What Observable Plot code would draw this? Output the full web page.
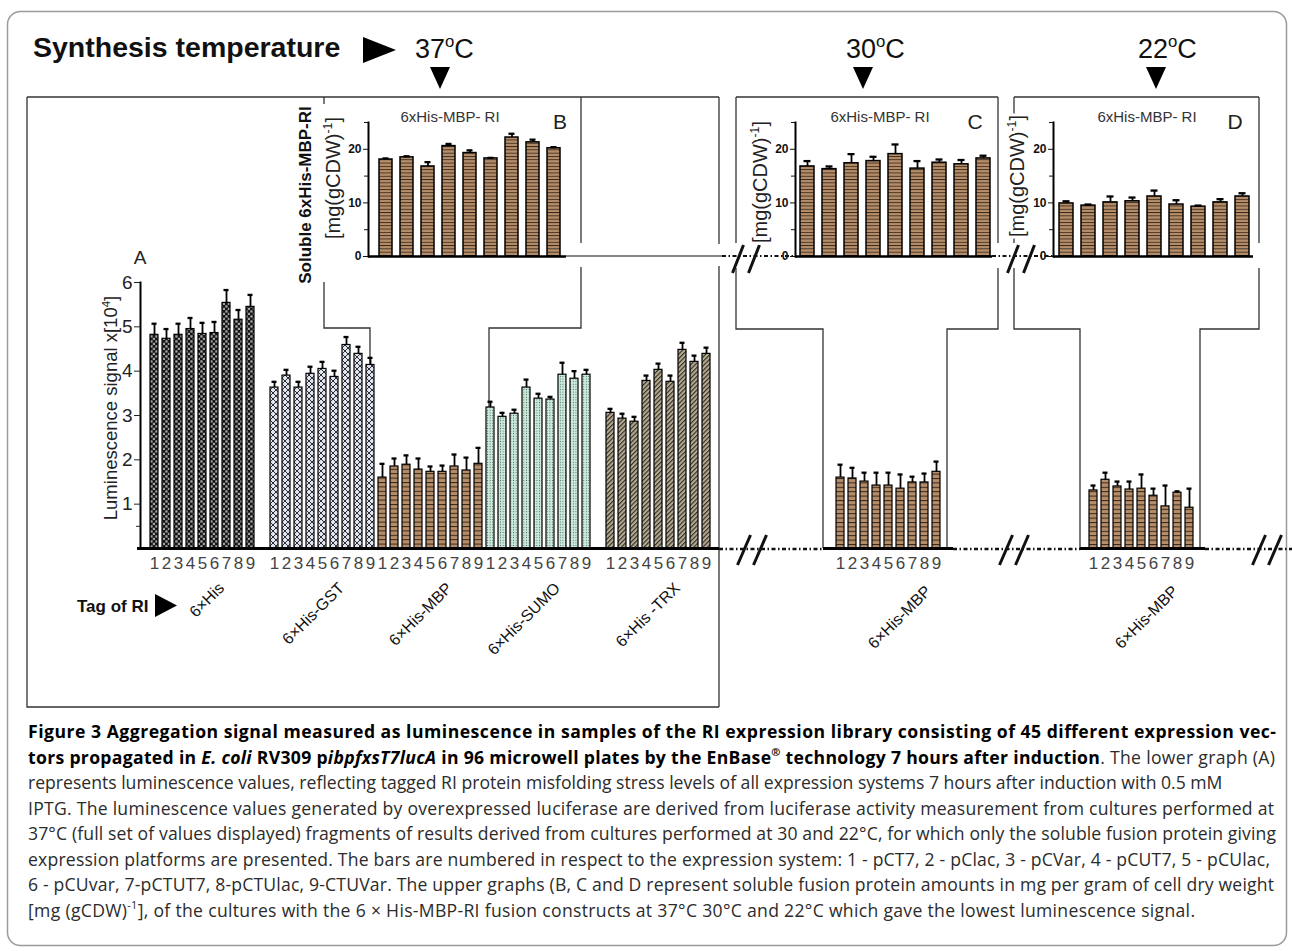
<!DOCTYPE html>
<html><head><meta charset="utf-8">
<script src="https://cdn.jsdelivr.net/npm/d3@7"></script>
<script src="https://cdn.jsdelivr.net/npm/@observablehq/plot@0.6"></script>
<style>
html,body{margin:0;padding:0;background:#fff;}
#root{position:relative;width:1292px;height:951px;overflow:hidden;background:#fff;}
#root > svg{position:absolute;}
</style></head><body><div id="root"></div>
<script>
// ---------------- data ----------------
const systems = ["1","2","3","4","5","6","7","8","9"];
const tagLabels = ["6×His","6×His-GST","6×His-MBP","6×His-SUMO","6×His -TRX"];
const lum6His  = [4.82,4.73,4.82,4.95,4.84,4.86,5.54,5.16,5.45];
const sd6His   = [0.25,0.22,0.25,0.25,0.25,0.25,0.29,0.22,0.27];
const lumGST   = [3.63,3.90,3.63,3.94,4.05,3.87,4.59,4.39,4.14];
const sdGST    = [0.13,0.13,0.13,0.16,0.16,0.14,0.18,0.16,0.16];
const lumMBP   = [1.60,1.85,1.89,1.78,1.73,1.73,1.85,1.76,1.91];
const sdMBP    = [0.31,0.18,0.21,0.25,0.12,0.14,0.27,0.29,0.36];
const lumSUMO  = [3.18,2.97,3.04,3.63,3.38,3.36,3.92,3.83,3.92];
const sdSUMO   = [0.13,0.09,0.09,0.18,0.11,0.06,0.27,0.17,0.11];
const lumTRX   = [3.06,2.93,2.86,3.78,4.03,3.76,4.48,4.21,4.39];
const sdTRX    = [0.09,0.11,0.11,0.12,0.14,0.14,0.16,0.14,0.14];
const lumMBP30 = [1.60,1.58,1.51,1.42,1.42,1.35,1.49,1.49,1.73];
const sdMBP30  = [0.29,0.24,0.20,0.29,0.29,0.32,0.13,0.20,0.23];
const lumMBP22 = [1.31,1.55,1.40,1.33,1.35,1.19,0.95,1.26,0.92];
const sdMBP22  = [0.11,0.16,0.11,0.18,0.32,0.16,0.47,0.03,0.43];
const sol37   = [18.1,18.5,16.8,20.6,19.3,18.3,22.2,21.3,20.2];
const sdSol37 = [0.2,0.2,0.8,0.4,0.5,0.1,0.7,0.5,0.2];
const sol30   = [16.8,16.3,17.4,17.8,19.1,16.4,17.5,17.2,18.3];
const sdSol30 = [1.0,0.5,1.7,0.8,1.8,1.4,0.6,0.8,0.5];
const sol22   = [9.9,9.5,10.1,10.3,11.2,9.7,9.3,10.1,11.2];
const sdSol22 = [0.4,0.2,1.1,0.7,1.1,0.8,0.2,0.6,0.6];
const lumTicks = [1,2,3,4,5,6];
const lumMinorTicks = [0.5];
const solTicks = [0,10,20];
const solMinorTicks = [5,15,25];
const temps = ["37","30","22"];
const insetTitle = "6xHis-MBP- RI";
const insetLetters = ["B","C","D"];
const lumLabel = "Luminescence signal x[10";
const solLabel1 = "Soluble 6xHis-MBP-RI";
const solLabel2 = "[mg(gCDW)";

// ---------------- helpers ----------------
const FONT = '"Liberation Sans", Arial, Helvetica, sans-serif';
const root = document.getElementById("root");
const ov = d3.select(root).append("svg").attr("width",1292).attr("height",951)
  .style("left","0px").style("top","0px").attr("font-family", FONT);

ov.append("defs").html(`
<pattern id="pHis" width="5" height="5" patternUnits="userSpaceOnUse">
  <rect width="5" height="5" fill="#151515"/>
  <rect x="0.3" y="0.3" width="2.3" height="2.3" fill="#a3a3a3"/>
  <rect x="2.8" y="2.8" width="2.3" height="2.3" fill="#a3a3a3"/>
</pattern>
<pattern id="pGST" width="6" height="6" patternUnits="userSpaceOnUse">
  <rect width="6" height="6" fill="#dfe4f1"/>
  <path d="M0,0L6,6M6,0L0,6" stroke="#1a1a1a" stroke-width="0.9"/>
</pattern>
<pattern id="pMBP" width="6" height="4.4" patternUnits="userSpaceOnUse">
  <rect width="6" height="4.4" fill="#b68d69"/>
  <rect y="0" width="6" height="1" fill="#33261a"/>
</pattern>
<pattern id="pMBPi" width="6" height="3.3" patternUnits="userSpaceOnUse">
  <rect width="6" height="3.3" fill="#b68d69"/>
  <rect y="0" width="6" height="0.9" fill="#3a2b1d"/>
</pattern>
<pattern id="pSUMO" width="2.6" height="2.6" patternUnits="userSpaceOnUse">
  <rect width="2.6" height="2.6" fill="#cdecdd"/>
  <circle cx="1.3" cy="1.3" r="0.55" fill="#4d6b5b"/>
</pattern>
<pattern id="pTRX" width="3.2" height="3.2" patternUnits="userSpaceOnUse" patternTransform="rotate(45)">
  <rect width="3.2" height="3.2" fill="#b6aa8d"/>
  <rect x="0" y="0" width="1.1" height="3.2" fill="#2b2b2b"/>
</pattern>`);

const groupFills = ["url(#pHis)","url(#pGST)","url(#pMBP)","url(#pSUMO)","url(#pTRX)"];

function line(pts, o = {}) {
  return ov.append("polyline").attr("points", pts.map(p => p.join(",")).join(" "))
    .attr("fill","none").attr("stroke", o.c || "#333").attr("stroke-width", o.w || 1.3)
    .attr("stroke-dasharray", o.dash || null).attr("stroke-linecap", o.cap || null);
}
function rich(x, y, runs, o) {
  const t = ov.append("text").attr("x", x).attr("y", y)
    .attr("font-family", o.font || FONT).attr("font-size", o.size).attr("fill", o.fill || "#222");
  if (o.len) t.attr("textLength", o.len).attr("lengthAdjust", "spacing");
  if (o.anchor) t.attr("text-anchor", o.anchor);
  if (o.weight) t.attr("font-weight", o.weight);
  if (o.transform) t.attr("transform", o.transform);
  if (o.halo) t.attr("stroke","#fff").attr("stroke-width",6).attr("paint-order","stroke").attr("stroke-linejoin","round");
  let shift = 0;
  runs.forEach(r => {
    const s = t.append("tspan").text(r.t);
    if (r.b) s.attr("font-weight","bold");
    if (r.i) s.attr("font-style","italic");
    if (r.f) s.attr("fill", r.f);
    const target = r.sup ? -(o.size * 0.4) : 0;
    if (target !== shift) { s.attr("dy", target - shift); shift = target; }
    if (r.sup) s.attr("font-size", o.size * 0.62);
  });
  return t;
}
function slashes(cx, cy, h, w) {
  [cx - 8, cx + 8].forEach(x => line([[x - w/2, cy + h/2], [x + w/2, cy - h/2]], {c:"#111", w:3}));
}
function bandRange(c0, c1, n, pad) {
  const step = (c1 - c0) / (n - 1), bw = step * (1 - pad);
  return [c0 - bw / 2, c1 + bw / 2];
}
function errMarks(rows, capInset, sw) {
  return [
    Plot.ruleX(rows, {x: "key", y1: "v", y2: d => d.v + d.sd, stroke: "#000", strokeWidth: sw}),
    Plot.tickY(rows, {x: "key", y: d => d.v + d.sd, stroke: "#000", strokeWidth: sw + 0.5, insetLeft: capInset, insetRight: capInset})
  ];
}
function place(svg, left, top) {
  svg.style.position = "absolute"; svg.style.left = left + "px"; svg.style.top = top + "px";
  root.appendChild(svg);
}
const baseStyle = {background: "transparent", overflow: "visible", fontFamily: FONT};

// ---------------- decorations (behind plots) ----------------
ov.append("rect").attr("x",7.5).attr("y",11.5).attr("width",1279).attr("height",934).attr("rx",13)
  .attr("fill","none").attr("stroke","#9a9a9a").attr("stroke-width",1.5);

// A box
line([[27,97],[719,97]]); line([[27,97],[27,707],[719,707]]);
line([[719,97],[719,244]]); line([[719,266],[719,707]]);
// B callout
line([[324,97],[324,104]]); line([[324,282],[324,328],[370,328],[370,548]]);
line([[581,97],[581,243]]); line([[581,267],[581,328],[489,328],[489,548]]);
// C box + callout
line([[736,97],[998,97]]);
line([[736,97],[736,243]]); line([[736,268],[736,329],[823,329],[823,548]]);
line([[998,97],[998,243]]); line([[998,268],[998,329],[947,329],[947,548]]);
// D box + callout
line([[1014,97],[1259,97]]);
line([[1014,97],[1014,243]]); line([[1014,268],[1014,329],[1080,329],[1080,548]]);
line([[1259,97],[1259,243]]); line([[1259,268],[1259,329],[1200,329],[1200,548]]);

// dotted connecting axes
const dash = "4 2.5 1.5 2.5";
line([[566,256],[722,256]], {c:"#111", w:1.2});
line([[722,256],[795,256]], {c:"#111", w:2.2, dash});
line([[992,256],[1053,256]], {c:"#111", w:2.2, dash});
slashes(746, 259, 28, 11); slashes(1021, 259, 28, 11);
line([[719,549],[823,549]], {c:"#111", w:2.6, dash});
line([[953,549],[1080,549]], {c:"#111", w:2.6, dash});
line([[1205,549],[1292,549]], {c:"#111", w:2.6, dash});
slashes(752, 550, 30, 13); slashes(1014, 550, 30, 13); slashes(1267, 550, 30, 13);

// header
rich(33, 57, [{t:"Synthesis temperature"}], {size:28.5, weight:"bold", fill:"#111"});
ov.append("polygon").attr("points","363,37 363,63 396,50").attr("fill","#000");
const tempX = [415, 846, 1138], arrowX = [440, 863, 1156];
temps.forEach((t, i) => {
  rich(tempX[i], 58, [{t}, {t:"o", sup:1}, {t:"C"}], {size:27, fill:"#111"});
  ov.append("polygon").attr("points", `${arrowX[i]-10},67 ${arrowX[i]+10},67 ${arrowX[i]},89`).attr("fill","#000");
});

// A labels
rich(140, 264, [{t:"A"}], {size:19, anchor:"middle", fill:"#222"});
rich(0, 0, [{t:lumLabel}, {t:"4", sup:1}, {t:"]"}], {size:18.5, anchor:"middle", fill:"#222", transform:"translate(117,408) rotate(-90)"});
rich(77, 612, [{t:"Tag of RI"}], {size:17, weight:"bold", fill:"#111"});
ov.append("polygon").attr("points","155,594 155,617 177,605.5").attr("fill","#000");

// inset titles and y labels
const titleX = [450, 880, 1147], letterX = [560, 975, 1235];
insetLetters.forEach((l, i) => {
  rich(titleX[i], 122, [{t:insetTitle}], {size:15, anchor:"middle", fill:"#333"});
  rich(letterX[i], 129, [{t:l}], {size:21, anchor:"middle", fill:"#222"});
});
rich(0, 0, [{t:solLabel1}], {size:17, weight:"bold", anchor:"middle", fill:"#111", transform:"translate(311,195) rotate(-90)"});
rich(0, 0, [{t:solLabel2}, {t:"-1", sup:1}, {t:"]"}], {size:20, anchor:"middle", fill:"#222", transform:"translate(340,178) rotate(-90)"});
rich(0, 0, [{t:solLabel2}, {t:"-1", sup:1}, {t:"]"}], {size:20, anchor:"middle", fill:"#222", transform:"translate(767,182) rotate(-90)", halo:1});
rich(0, 0, [{t:solLabel2}, {t:"-1", sup:1}, {t:"]"}], {size:20, anchor:"middle", fill:"#222", transform:"translate(1024,176) rotate(-90)", halo:1});

// caption
const CAP = '"Open Sans", Lato, sans-serif';
const capLines = [
  [{t:"Figure 3 Aggregation signal measured as luminescence in samples of the RI expression library consisting of 45 different expression vec-", b:1, f:"#000"}],
  [{t:"tors propagated in ", b:1, f:"#000"}, {t:"E. coli", b:1, i:1, f:"#000"}, {t:" RV309 p", b:1, f:"#000"}, {t:"ibpfxsT7lucA", b:1, i:1, f:"#000"},
   {t:" in 96 microwell plates by the EnBase", b:1, f:"#000"}, {t:"®", b:1, sup:1, f:"#000"}, {t:" technology 7 hours after induction", b:1, f:"#000"}, {t:". The lower graph (A)"}],
  [{t:"represents luminescence values, reflecting tagged RI protein misfolding stress levels of all expression systems 7 hours after induction with 0.5 mM"}],
  [{t:"IPTG. The luminescence values generated by overexpressed luciferase are derived from luciferase activity measurement from cultures performed at"}],
  [{t:"37°C (full set of values displayed) fragments of results derived from cultures performed at 30 and 22°C, for which only the soluble fusion protein giving"}],
  [{t:"expression platforms are presented. The bars are numbered in respect to the expression system: 1 - pCT7, 2 - pClac, 3 - pCVar, 4 - pCUT7, 5 - pCUlac,"}],
  [{t:"6 - pCUvar, 7-pCTUT7, 8-pCTUlac, 9-CTUVar. The upper graphs (B, C and D represent soluble fusion protein amounts in mg per gram of cell dry weight"}],
  [{t:"[mg (gCDW)"}, {t:"-1", sup:1}, {t:"], of the cultures with the 6 × His-MBP-RI fusion constructs at 37°C 30°C and 22°C which gave the lowest luminescence signal."}]
];
const capEnd = [1276, 1275, null, 1274, 1276, 1270, 1274, 1195];
capLines.forEach((runs, i) => rich(28, 738 + i * 25.5, runs, {size:17.6, font:CAP, fill:"#2b2b2b", len: capEnd[i] ? capEnd[i] - 28 : null}));

// ---------------- plot A ----------------
const groupVals = [lum6His, lumGST, lumMBP, lumSUMO, lumTRX];
const groupSds  = [sd6His, sdGST, sdMBP, sdSUMO, sdTRX];
const rowsA = [];
const domainA = [];
groupVals.forEach((vals, gi) => {
  if (gi === 1 || gi === 4) domainA.push("gap" + gi);
  systems.forEach((s, i) => {
    const key = gi + "-" + s;
    domainA.push(key);
    rowsA.push({key, g: gi, sys: s, v: vals[i], sd: groupSds[gi][i]});
  });
});
const tagRows = tagLabels.map((t, gi) => ({key: gi + "-5", tag: t}));

const plotA = Plot.plot({
  width: 730, height: 420, marginLeft: 140, marginRight: 11, marginTop: 42, marginBottom: 112,
  style: baseStyle,
  x: {type: "band", domain: domainA, range: bandRange(152, 707, domainA.length, 0.34), paddingInner: 0.34, paddingOuter: 0, align: 0.5},
  y: {domain: [0, 6]},
  color: {type: "identity"},
  marks: [
    Plot.frame({anchor: "left", stroke: "#000", strokeWidth: 2}),
    Plot.barY(rowsA, {x: "key", y: "v", fill: d => groupFills[d.g], stroke: "#000", strokeWidth: 1.2}),
    ...errMarks(rowsA, 1.5, 1.8),
    Plot.ruleY([0], {stroke: "#000", strokeWidth: 3.2, insetLeft: -3}),
    Plot.axisY({ticks: lumTicks, tickFormat: "d", tickSize: 6, tickPadding: 2, fontSize: 19, color: "#222", label: null}),
    Plot.axisY({ticks: lumMinorTicks, tickSize: 4, tickFormat: () => "", color: "#222", label: null}),
    Plot.axisX({ticks: domainA.filter(k => !k.startsWith("gap")), tickFormat: k => k.split("-")[1],
      tickSize: 0, tickPadding: 8, fontSize: 17, color: "#444", label: null}),
    Plot.text(tagRows, {x: "key", y: () => 0, text: "tag", rotate: -45, textAnchor: "end", dx: 19, dy: 37, fontSize: 16, fill: "#111"})
  ]
});
place(plotA, 0, 240);

// ---------------- insets B, C, D ----------------
function inset(vals, sds, left, width, axisX, c0, c1, end) {
  const rows = vals.map((v, i) => ({key: systems[i], v, sd: sds[i]}));
  return Plot.plot({
    width, height: 200, marginLeft: axisX - left, marginRight: left + width - end, marginTop: 32, marginBottom: 34,
    style: baseStyle,
    x: {type: "band", domain: systems, range: bandRange(c0 - left, c1 - left, 9, 0.36), paddingInner: 0.36, paddingOuter: 0, axis: null},
    y: {domain: [0, 25]},
    color: {type: "identity"},
    marks: [
      Plot.frame({anchor: "left", stroke: "#000", strokeWidth: 2}),
      Plot.barY(rows, {x: "key", y: "v", fill: () => "url(#pMBPi)", stroke: "#000", strokeWidth: 1.5}),
      ...errMarks(rows, 3.5, 1.8),
      Plot.ruleY([0], {stroke: "#000", strokeWidth: 2.5}),
      Plot.axisY({ticks: solTicks, tickSize: 5, tickPadding: 2, fontSize: 12, fontWeight: "bold", color: "#111", label: null}),
      Plot.axisY({ticks: solMinorTicks, tickSize: 4, tickFormat: () => "", color: "#111", label: null})
    ]
  });
}
place(inset(sol37, sdSol37, 290, 300, 368, 383, 556, 566), 290, 90);
place(inset(sol30, sdSol30, 720, 290, 795, 806, 984, 992), 720, 90);
place(inset(sol22, sdSol22, 980, 290, 1053, 1065, 1243, 1253), 980, 90);

// ---------------- lower C, D (luminescence at 30 and 22 °C) ----------------
function lower(vals, sds, left, width, base0, c0, c1, end, tagDx) {
  const rows = vals.map((v, i) => ({key: systems[i], v, sd: sds[i]}));
  return Plot.plot({
    width, height: 300, marginLeft: base0 - left, marginRight: left + width - end, marginTop: 2, marginBottom: 32,
    style: baseStyle,
    x: {type: "band", domain: systems, range: bandRange(c0 - left, c1 - left, 9, 0.3), paddingInner: 0.3, paddingOuter: 0},
    y: {domain: [0, 6], axis: null},
    color: {type: "identity"},
    marks: [
      Plot.barY(rows, {x: "key", y: "v", fill: () => "url(#pMBP)", stroke: "#000", strokeWidth: 1.2}),
      ...errMarks(rows, 1.5, 1.8),
      Plot.ruleY([0], {stroke: "#000", strokeWidth: 3.2}),
      Plot.axisX({tickSize: 0, tickPadding: 8, fontSize: 17, color: "#444", label: null}),
      Plot.text([tagLabels[2]], {x: () => "5", y: () => 0, text: d => d, rotate: -45, textAnchor: "end", dx: tagDx, dy: 40, fontSize: 16, fill: "#111"})
    ]
  });
}
place(lower(lumMBP30, sdMBP30, 790, 180, 823, 837, 939, 953, 40), 790, 280);
place(lower(lumMBP22, sdMBP22, 1045, 180, 1080, 1090, 1193, 1205, 34), 1045, 280);
</script></body></html>
